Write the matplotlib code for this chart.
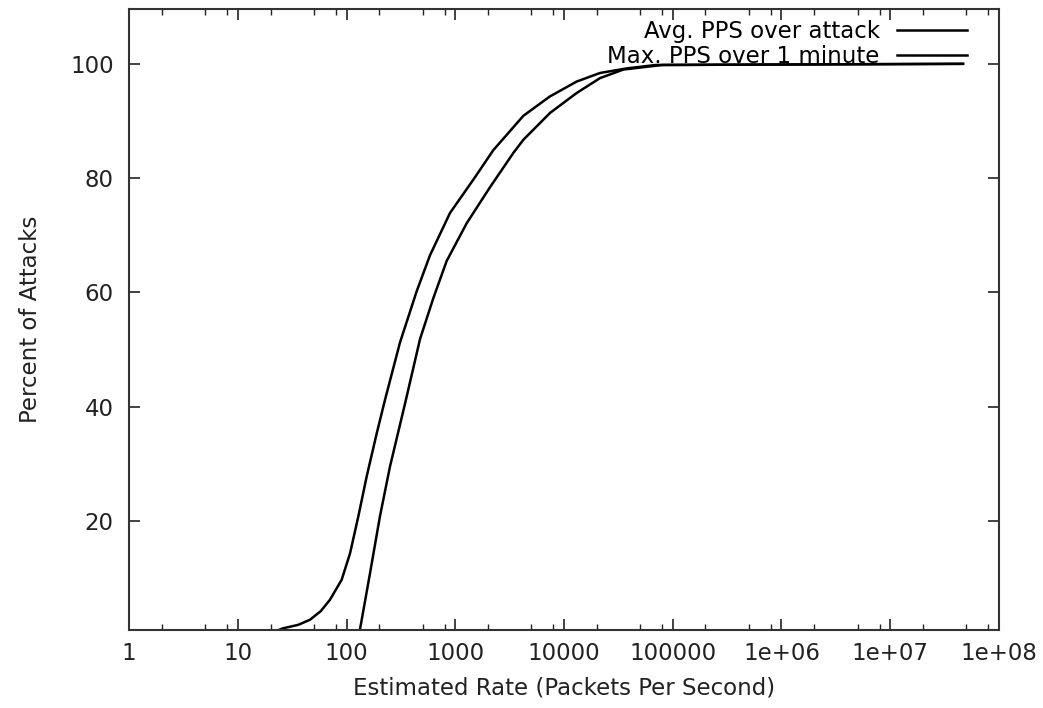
import numpy as np
import matplotlib
matplotlib.use('Agg')
import matplotlib.pyplot as plt
from matplotlib.ticker import FixedLocator, NullFormatter

plt.rcParams['font.family'] = ['DejaVu Sans']

# CDF of estimated attack rates
avg_pps = [24.5, 26.2, 36, 46.2, 58, 70.5, 90.3, 107.7, 128.5, 153.4, 189.5, 226, 310, 442,
           586, 895, 1500, 2240, 4227, 7430, 13090, 21440, 37700, 70000, 4.67e7]
avg_pct = [1, 1.2, 1.8, 2.7, 4.2, 6.2, 9.7, 14.3, 20.8, 27.8, 35.3, 41.2, 51.2, 60.2,
           66.5, 73.9, 80.0, 84.9, 90.9, 94.3, 96.9, 98.4, 99.2, 99.8, 100]

max_pps = [133, 164.4, 203, 251, 345, 474, 629, 834, 1274, 2086, 3420, 4227,
           7430, 13090, 21440, 35100, 80000, 4.67e7]
max_pct = [1, 10.8, 20.8, 29.5, 40.5, 51.8, 59.0, 65.5, 72.1, 78.4, 84.4, 86.7,
           91.4, 94.9, 97.5, 99.0, 99.8, 100]

xticks = [1, 10, 100, 1000, 10000, 100000, 1e6, 1e7, 1e8]
xticklabels = ['1', '10', '100', '1000', '10000', '100000', '1e+06', '1e+07', '1e+08']
yticks = [20, 40, 60, 80, 100]

fig = plt.figure(figsize=(10.43, 7.08), dpi=100)
ax = fig.add_axes([0.1237, 0.1102, 0.9578 - 0.1237, 0.9873 - 0.1102])

ax.plot(avg_pps, avg_pct, color='black', linewidth=1.8, label='Avg. PPS over attack')
ax.plot(max_pps, max_pct, color='black', linewidth=1.8, label='Max. PPS over 1 minute')

ax.set_xscale('log')
ax.set_xlim(1, 1e8)
ax.set_ylim(0.9, 109.6)

ax.xaxis.set_major_locator(FixedLocator(xticks))
ax.set_xticklabels(xticklabels)
minor = [m * 10 ** d for d in range(8) for m in (2, 5, 8)]
ax.xaxis.set_minor_locator(FixedLocator(minor))
ax.xaxis.set_minor_formatter(NullFormatter())
ax.set_yticks(yticks)

ax.tick_params(axis='both', which='major', direction='in', length=8, width=1.2,
               top=True, right=True, labelsize=16.5, colors='#222222')
ax.tick_params(axis='both', which='minor', direction='in', length=4, width=1.0,
               top=True, right=True, colors='#222222')
ax.tick_params(axis='x', which='major', pad=9)
ax.tick_params(axis='y', which='major', pad=11)
for sp in ax.spines.values():
    sp.set_linewidth(1.5)
    sp.set_color('#333333')

ax.set_xlabel('Estimated Rate (Packets Per Second)', fontsize=16.5, color='#222222', labelpad=8)
ax.set_ylabel('Percent of Attacks', fontsize=16.5, color='#222222', labelpad=20)

ax.legend(loc='upper right', bbox_to_anchor=(0.9736, 0.997), borderaxespad=0,
          frameon=False, markerfirst=False, fontsize=16.5,
          handlelength=3.05, labelspacing=0.08, handletextpad=0.75)

plt.savefig('out.png', dpi=100)
plt.close(fig)
